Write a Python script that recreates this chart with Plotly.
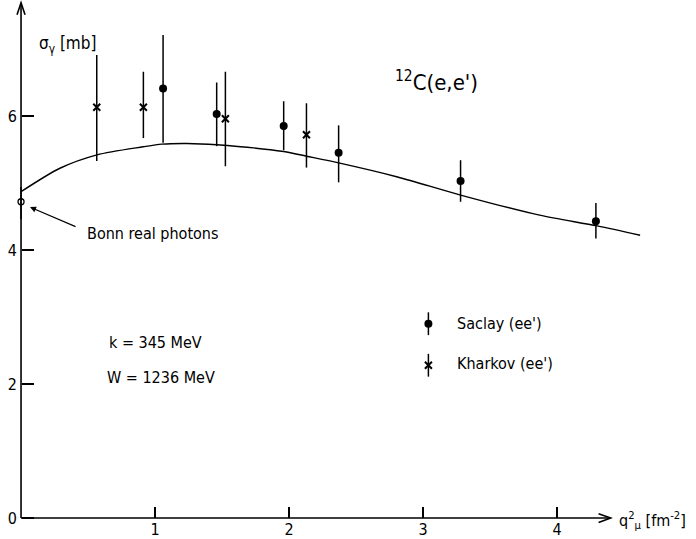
import plotly.graph_objects as go

# ---- data ----
saclay_x = [1.06, 1.46, 1.96, 2.37, 3.28, 4.29]
saclay_y = [6.41, 6.03, 5.85, 5.45, 5.03, 4.43]
saclay_hi = [7.21, 6.50, 6.22, 5.86, 5.34, 4.70]
saclay_lo = [5.60, 5.55, 5.49, 5.01, 4.72, 4.17]

kharkov_x = [0.565, 0.913, 1.525, 2.13]
kharkov_y = [6.13, 6.13, 5.96, 5.72]
kharkov_hi = [6.91, 6.66, 6.66, 6.19]
kharkov_lo = [5.33, 5.67, 5.25, 5.23]

bonn_x = [0.0]
bonn_y = [4.72]
bonn_hi = [4.94]
bonn_lo = [4.46]

curve_x = [0, 0.29, 0.567, 0.91, 1.05, 1.24, 1.46, 1.96, 2.13, 2.37, 2.81, 3.28, 3.87, 4.30, 4.62]
curve_y = [4.87, 5.22, 5.42, 5.54, 5.58, 5.59, 5.57, 5.47, 5.40, 5.30, 5.09, 4.82, 4.52, 4.36, 4.22]

x_ticks = [1, 2, 3, 4]
y_ticks = [0, 2, 4, 6]

FONT = "DejaVu Sans Condensed, DejaVu Sans, sans-serif"


def errs(y, hi, lo):
    return [h - v for h, v in zip(hi, y)], [v - l for v, l in zip(y, lo)]


fig = go.Figure()

fig.add_trace(go.Scatter(x=curve_x, y=curve_y, mode="lines",
                         line=dict(color="black", width=1.4, shape="spline", smoothing=0.8),
                         showlegend=False))

up, dn = errs(saclay_y, saclay_hi, saclay_lo)
fig.add_trace(go.Scatter(x=saclay_x, y=saclay_y, mode="markers",
                         marker=dict(symbol="circle", size=8, color="black"),
                         error_y=dict(type="data", symmetric=False, array=up, arrayminus=dn,
                                      color="black", thickness=1.5, width=0),
                         showlegend=False))

up, dn = errs(kharkov_y, kharkov_hi, kharkov_lo)
fig.add_trace(go.Scatter(x=kharkov_x, y=kharkov_y, mode="markers",
                         marker=dict(symbol="x-thin", size=7, color="black",
                                     line=dict(color="black", width=2)),
                         error_y=dict(type="data", symmetric=False, array=up, arrayminus=dn,
                                      color="black", thickness=1.5, width=0),
                         showlegend=False))

up, dn = errs(bonn_y, bonn_hi, bonn_lo)
fig.add_trace(go.Scatter(x=bonn_x, y=bonn_y, mode="markers",
                         marker=dict(symbol="circle-open", size=6, color="black",
                                     line=dict(color="black", width=1.3)),
                         error_y=dict(type="data", symmetric=False, array=up, arrayminus=dn,
                                      color="black", thickness=1.5, width=0),
                         showlegend=False))

# legend symbols
fig.add_trace(go.Scatter(x=[3.04], y=[2.90], mode="markers",
                         marker=dict(symbol="circle", size=8, color="black"),
                         error_y=dict(type="constant", value=0.17, color="black", thickness=1.5, width=0),
                         showlegend=False))
fig.add_trace(go.Scatter(x=[3.04], y=[2.28], mode="markers",
                         marker=dict(symbol="x-thin", size=7, color="black",
                                     line=dict(color="black", width=2)),
                         error_y=dict(type="constant", value=0.17, color="black", thickness=1.5, width=0),
                         showlegend=False))

# axis lines with open arrow heads
x_end, y_end = 4.40, 7.69
shapes = [
    dict(type="line", x0=0, y0=0, x1=x_end, y1=0, line=dict(color="black", width=1.6)),
    dict(type="line", x0=0, y0=0, x1=0, y1=y_end, line=dict(color="black", width=1.6)),
    dict(type="path", path=f"M {x_end-0.09},0.065 L {x_end},0 L {x_end-0.09},-0.065",
         line=dict(color="black", width=1.6)),
    dict(type="path", path=f"M -0.03,{y_end-0.18} L 0,{y_end} L 0.03,{y_end-0.18}",
         line=dict(color="black", width=1.6)),
]

tf = dict(family=FONT, size=16, color="black")
annotations = [
    dict(x=0.12, y=7.06, text="σ<sub>γ</sub> [mb]", showarrow=False, xanchor="left",
         font=dict(family=FONT, size=17, color="black")),
    dict(x=2.775, y=6.52, text="<sup>12</sup>C(e,e')", showarrow=False, xanchor="left",
         font=dict(family=FONT, size=22, color="black")),
    dict(x=0.478, y=4.25, text="Bonn real photons", showarrow=False, xanchor="left", font=tf),
    dict(x=0.067, y=4.64, ax=0.418, ay=4.34, axref="x", ayref="y", text="", showarrow=True,
         arrowhead=2, arrowsize=1, arrowwidth=1.2, arrowcolor="black"),
    dict(x=0.642, y=2.627, text="k = 345 MeV", showarrow=False, xanchor="left", font=tf),
    dict(x=0.627, y=2.104, text="W = 1236 MeV", showarrow=False, xanchor="left", font=tf),
    dict(x=3.239, y=2.896, text="Saclay (ee')", showarrow=False, xanchor="left", font=tf),
    dict(x=3.239, y=2.299, text="Kharkov (ee')", showarrow=False, xanchor="left", font=tf),
    dict(x=4.448, y=-0.03, text="q<sup>2</sup><sub>μ</sub> [fm<sup>-2</sup>]", showarrow=False,
         xanchor="left", font=tf),
]

W, H = 696, 539
x0_px, y0_px = 21, 518
fig.update_layout(
    width=W, height=H,
    margin=dict(l=0, r=0, t=0, b=0),
    paper_bgcolor="white", plot_bgcolor="white",
    font=tf,
    shapes=shapes, annotations=annotations,
    xaxis=dict(range=[-0.157, 5.037], showgrid=False, zeroline=False, showline=False,
               anchor="free", position=(H - y0_px) / H,
               tickvals=x_ticks, ticktext=[str(v) for v in x_ticks],
               ticks="inside", ticklen=11, tickwidth=1.5, tickcolor="black",
               tickfont=tf, automargin=False),
    yaxis=dict(range=[-0.313, 7.731], showgrid=False, zeroline=False, showline=False,
               anchor="free", position=x0_px / W,
               tickvals=y_ticks, ticktext=[str(v) for v in y_ticks],
               ticks="inside", ticklen=12, tickwidth=1.5, tickcolor="black",
               ticklabelstandoff=4,
               tickfont=tf, automargin=False),
)

fig.write_html("out.html")
